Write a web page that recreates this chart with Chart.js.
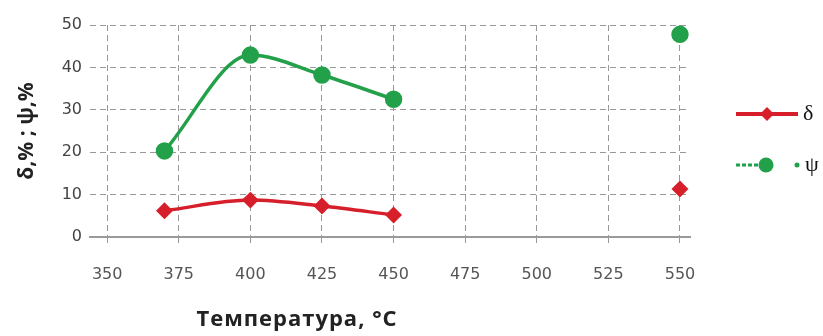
<!DOCTYPE html>
<html><head><meta charset="utf-8">
<script src="https://cdn.jsdelivr.net/npm/chart.js@4/dist/chart.umd.min.js"></script>
<style>
html,body{margin:0;padding:0;background:#fff;}
#wrap{position:relative;width:823px;height:336px;}
#xtitle{position:absolute;left:170px;top:302px;width:254px;text-align:center;font:700 22px "Open Sans",sans-serif;letter-spacing:1px;color:#222;white-space:nowrap;}
.leg{position:absolute;font:22px "Liberation Serif",serif;color:#111;white-space:nowrap;}
.leg svg{vertical-align:middle;}
</style></head>
<body><div id="wrap"><canvas id="c" width="823" height="336"></canvas>
<div id="xtitle">Температура, °C</div>
<div class="leg" style="left:734px;top:99px;"><svg width="66" height="28"><line x1="2" y1="14" x2="64" y2="14" stroke="#d71f2b" stroke-width="4"/><polygon points="33,7 40,14 33,21 26,14" fill="#d71f2b"/></svg><span style="position:relative;left:3px;top:1px">δ</span></div>
<div class="leg" style="left:734px;top:150px;"><svg width="66" height="28"><line x1="2" y1="14" x2="26" y2="14" stroke="#22a04a" stroke-width="3" stroke-dasharray="4,2"/><circle cx="32" cy="14" r="7.5" fill="#22a04a"/><circle cx="63" cy="14" r="2.5" fill="#22a04a"/></svg><span style="position:relative;left:5px;top:1px">ψ</span></div>
</div>
<script>
const temps = [370, 400, 425, 450, 500, 550];
const delta = [6.2, 8.7, 7.3, 5.2, null, 11.3];
const psi = [20.3, 42.9, 38.2, 32.5, null, 47.8];
const xTicks = [350, 375, 400, 425, 450, 475, 500, 525, 550];
const yTicks = [0, 10, 20, 30, 40, 50];
const red = '#d71f2b', green = '#22a04a';
const pts = arr => temps.map((t, i) => ({x: t, y: arr[i]}));
new Chart(document.getElementById('c'), {
  type: 'line',
  data: {datasets: [
    {label: 'δ', data: pts(delta), borderColor: red, backgroundColor: red, borderWidth: 3.5,
     pointStyle: 'rectRot', pointRadius: 6, pointHoverRadius: 6, tension: 0.4, cubicInterpolationMode: 'monotone', spanGaps: false},
    {label: 'ψ', data: pts(psi), borderColor: green, backgroundColor: green, borderWidth: 3.5,
     pointStyle: 'circle', pointRadius: 7, pointHoverRadius: 7, tension: 0.4, cubicInterpolationMode: 'monotone', spanGaps: false}
  ]},
  options: {
    responsive: false, animation: false,
    layout: {padding: {left: 0, right: 133, top: 25, bottom: 0}},
    plugins: {legend: {display: false}, tooltip: {enabled: false}},
    scales: {
      x: {type: 'linear', min: 344, max: 553.5,
        afterBuildTicks: s => { s.ticks = xTicks.map(v => ({value: v})); },
        afterFit: s => { s.height = 99; },
        grid: {color: '#999', lineWidth: 1, tickLength: 6},
        border: {display: true, color: '#9a9a9a', width: 2, dash: [6, 4]},
        ticks: {padding: 22, color: '#555', font: {family: 'DejaVu Sans', size: 16}, autoSkip: false, maxRotation: 0}
      },
      y: {min: 0, max: 50,
        afterBuildTicks: s => { s.ticks = yTicks.map(v => ({value: v})); },
        afterFit: s => { s.width = 90; },
        grid: {color: '#999', lineWidth: 1, drawTicks: false},
        border: {display: false, dash: [6, 4]},
        ticks: {padding: 8, color: '#444', font: {family: 'DejaVu Sans', size: 16}},
        title: {display: true, text: 'δ,% ; ψ,%', color: '#222', font: {family: 'Open Sans', size: 21, weight: '700'}, padding: {top: 14, bottom: 0}}
      }
    }
  }
});
</script></body></html>
